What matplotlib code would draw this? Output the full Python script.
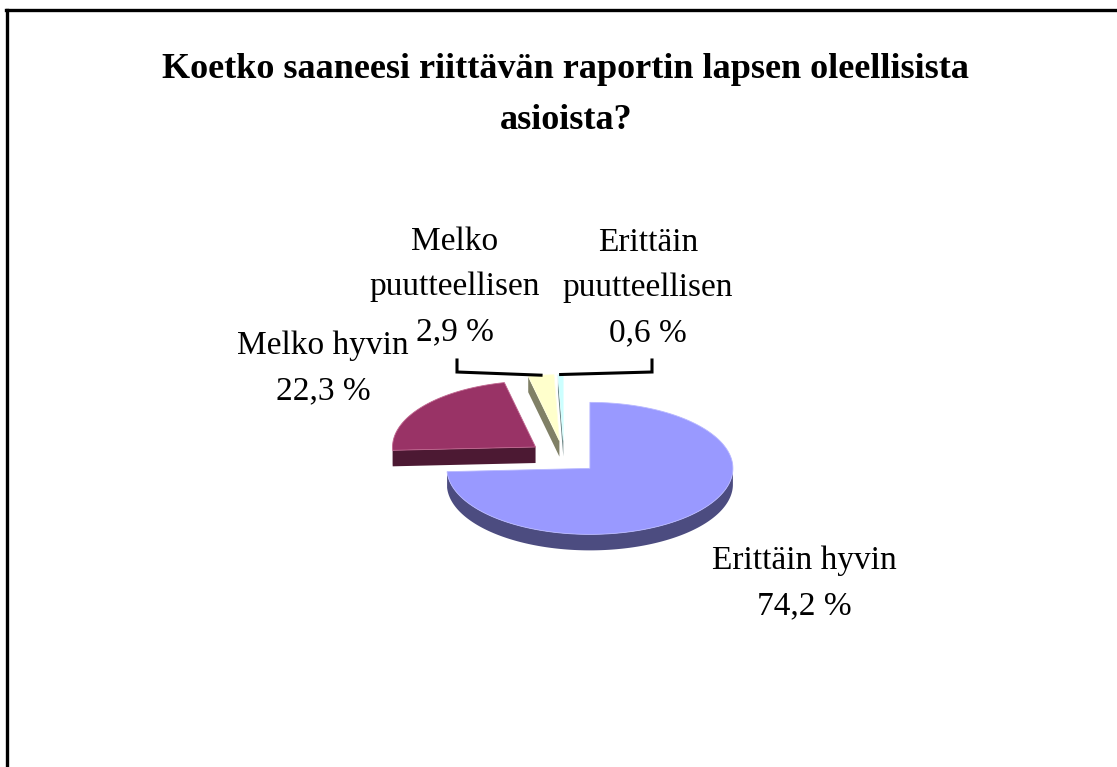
import numpy as np
import matplotlib
matplotlib.use("Agg")
import matplotlib.pyplot as plt
from matplotlib.patches import Polygon
from matplotlib.lines import Line2D

# Survey answers and their shares (%)
title = "Koetko saaneesi riittävän raportin lapsen oleellisista\nasioista?"
categories = ["Erittäin hyvin", "Melko hyvin", "Melko\npuutteellisen", "Erittäin\npuutteellisen"]
shares = [74.2, 22.3, 2.9, 0.6]
value_labels = ["74,2 %", "22,3 %", "2,9 %", "0,6 %"]

top_colors = ["#9999FF", "#993366", "#FFFFCC", "#CCFFFF"]
side_colors = ["#4C4C80", "#4C1933", "#808066", "#668080"]
edge_colors = ["#B8B8FF", "#C0668F", "#FFFFE0", "#E0FFFF"]

W, H = 1117, 767
fig = plt.figure(figsize=(W / 100, H / 100), dpi=100)
ax = fig.add_axes([0, 0, 1, 1])
ax.set_xlim(0, W)
ax.set_ylim(H, 0)
ax.axis("off")

serif = "Liberation Serif"

# Outer frame (top and left edges)
fig.add_artist(Line2D([6 / W, 1.0], [1 - 10 / H, 1 - 10 / H], color="black", lw=2.4,
                      transform=fig.transFigure))
fig.add_artist(Line2D([7 / W, 7 / W], [1 - 10 / H, 0.0], color="black", lw=2.4,
                      transform=fig.transFigure))

ax.text(566, 95, title, ha="center", va="center", fontsize=26, fontweight="bold",
        family=serif, linespacing=1.75)

# 3D pie geometry (screen pixels)
cx, cy = 564, 457
rx, ry = 143, 66
depth = 16
explode = 0.25

fr = np.array(shares) / sum(shares)
cum = np.concatenate([[0], np.cumsum(fr)])
slices = []
for i in range(len(shares)):
    t1 = np.radians(90 - 360 * cum[i + 1])
    t2 = np.radians(90 - 360 * cum[i])
    mid = 0.5 * (t1 + t2)
    vx = cx + explode * rx * np.cos(mid)
    vy = cy - explode * ry * np.sin(mid)
    slices.append((i, t1, t2, mid, vx, vy))


def rim(vx, vy, t):
    return vx + rx * np.cos(t), vy - ry * np.sin(t)


# draw back to front
for i, t1, t2, mid, vx, vy in sorted(slices, key=lambda s: s[5]):
    # radial side faces
    for t, visible in ((t1, np.cos(t1) > 1e-9), (t2, np.cos(t2) < -1e-9)):
        if visible:
            px, py = rim(vx, vy, t)
            face = [(vx, vy), (px, py), (px, py + depth), (vx, vy + depth)]
            ax.add_patch(Polygon(face, closed=True, fc=side_colors[i], ec="none", zorder=2))
    # curved outer wall
    ts = np.linspace(t1, t2, 400)
    vis = np.sin(ts) < 0
    if vis.any():
        idx = np.where(vis)[0]
        segs = np.split(idx, np.where(np.diff(idx) > 1)[0] + 1)
        for seg in segs:
            tt = ts[seg]
            xs, ys = rim(vx, vy, tt)
            pts = list(zip(xs, ys)) + list(zip(xs[::-1], ys[::-1] + depth))
            ax.add_patch(Polygon(pts, closed=True, fc=side_colors[i], ec="none", zorder=2))
    # top face
    ts = np.linspace(t1, t2, 400)
    xs, ys = rim(vx, vy, ts)
    pts = [(vx, vy)] + list(zip(xs, ys))
    ax.add_patch(Polygon(pts, closed=True, fc=top_colors[i], ec=edge_colors[i], lw=0.6,
                         zorder=2))

# Data labels
lab_fs = 24
label_pos = {0: (804, 583), 1: (323, 368), 2: (455, 287), 3: (648, 288)}
for i, t1, t2, mid, vx, vy in slices:
    x, y = label_pos[i]
    ax.text(x, y, categories[i] + "\n" + value_labels[i], ha="center", va="center",
            fontsize=lab_fs, family=serif, linespacing=1.63, zorder=3)

# Leader lines for the two small slices
elbows = {2: (457, 372, 360), 3: (652, 372, 360)}
for i, t1, t2, mid, vx, vy in slices:
    if i in elbows:
        ex, ey, etop = elbows[i]
        px, py = rim(vx, vy, mid)
        ax.plot([px, ex, ex], [py, ey, etop], color="black", lw=2.2, zorder=4,
                solid_joinstyle="miter")

fig.savefig("out.png", dpi=100)
